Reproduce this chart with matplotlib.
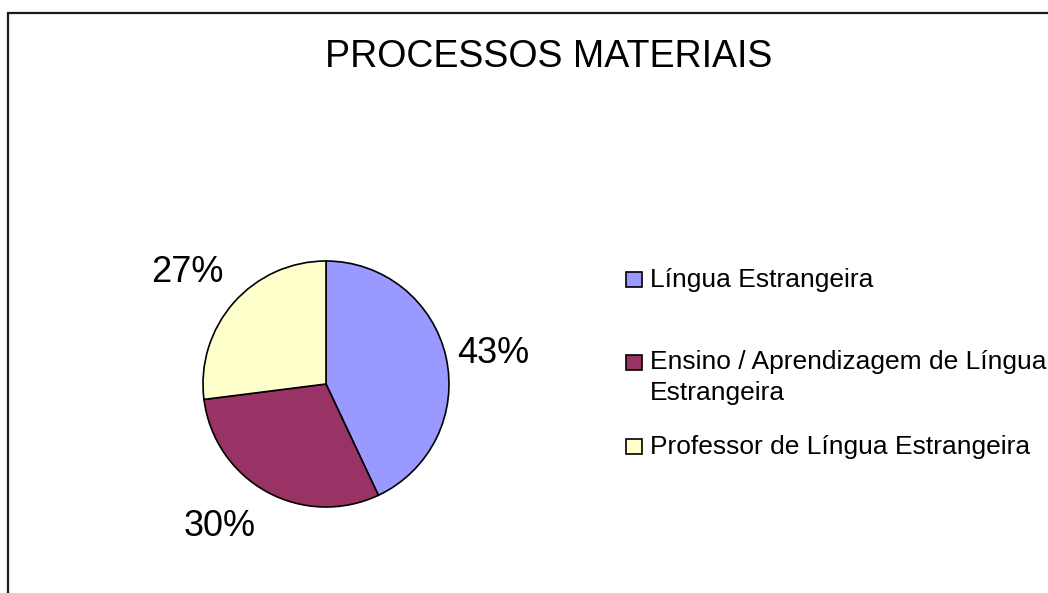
import matplotlib
matplotlib.use("Agg")
import matplotlib.pyplot as plt
from matplotlib.patches import Rectangle

plt.rcParams['font.family'] = ['Liberation Sans', 'DejaVu Sans']

# Dados
titulo = "PROCESSOS MATERIAIS"
categorias = ["Língua Estrangeira",
              "Ensino / Aprendizagem de Língua\nEstrangeira",
              "Professor de Língua Estrangeira"]
valores = [43, 30, 27]
cores = ["#9999FF", "#993366", "#FFFFCC"]

W, H = 1048, 593
figura = plt.figure(figsize=(W / 100, H / 100), dpi=100)

# moldura do gráfico (continua além da borda direita e de baixo)
figura.patches.append(Rectangle((8 / W, -0.2), 1.4, 1.2 - 13 / H, transform=figura.transFigure,
                                fill=False, edgecolor="#1a1a1a", linewidth=1.6))

figura.text(549 / W, 1 - 57 / H, titulo, ha="center", va="center", fontsize=27)

# Pizza
cx, cy, r = 326, 384, 123
eixo = figura.add_axes([(cx - r) / W, (H - cy - r) / H, 2 * r / W, 2 * r / H])
fatias, textos, pct = eixo.pie(valores, colors=cores, startangle=90, counterclock=False,
                               autopct="%1.0f%%", pctdistance=1.42,
                               wedgeprops=dict(edgecolor="black", linewidth=1.2),
                               textprops=dict(fontsize=26))
for f in fatias:
    f.set_clip_on(False)

# ajuste fino dos rótulos (posicionamento "melhor ajuste" do Excel)
ajustes = [(-0.03, -0.06), (-0.18, 0.085), (-0.065, -0.03)]
for t, (dx, dy) in zip(pct, ajustes):
    x, y = t.get_position()
    t.set_position((x + dx, y + dy))

eixo.set_xlim(-1, 1)
eixo.set_ylim(-1, 1)
eixo.set_axis_off()

# Legenda
linhas_base = [287, 370, 454]
for cat, cor, yb in zip(categorias, cores, linhas_base):
    figura.patches.append(Rectangle((626 / W, 1 - yb / H), 16 / W, 15 / H,
                                    transform=figura.transFigure, facecolor=cor,
                                    edgecolor="black", linewidth=1.2))
    n_extra = cat.count("\n")
    figura.text(650 / W, 1 - (yb + 30 * n_extra) / H, cat, ha="left", va="baseline",
                fontsize=19, linespacing=1.37)

figura.savefig("out.png", dpi=100)
